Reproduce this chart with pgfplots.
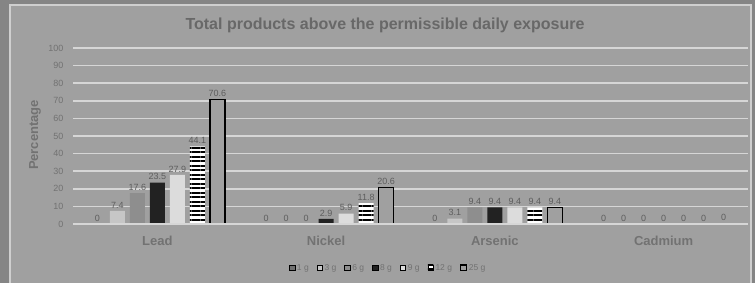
\documentclass[border=0pt]{standalone}
\usepackage{pgfplots}
\pgfplotsset{compat=1.18}
\usepackage{fontspec}
\setmainfont{Liberation Sans}
\usetikzlibrary{patterns.meta}
\definecolor{bg}{HTML}{A0A0A0}
\definecolor{outerbg}{HTML}{858585}
\definecolor{panelborder}{HTML}{CFCFCF}
\definecolor{gridc}{HTML}{D6D6D6}
\definecolor{titlec}{HTML}{686868}
\definecolor{tickc}{HTML}{727272}
\definecolor{labc}{HTML}{5E5E5E}
\definecolor{cA}{HTML}{707070}
\definecolor{cB}{HTML}{C6C6C6}
\definecolor{cC}{HTML}{8E8E8E}
\definecolor{cD}{HTML}{222222}
\definecolor{cE}{HTML}{DCDCDC}
\begin{document}
\begin{tikzpicture}[x=1pt,y=1pt]
\useasboundingbox (0,0) rectangle (755,283);
\fill[outerbg] (0,0) rectangle (755,283);
\fill[bg,draw=panelborder,line width=1.5pt] (10,-5) rectangle (751,278);
\node[font=\fontsize{16}{16}\selectfont\bfseries, text=titlec] at (385,258) {Total products above the permissible daily exposure};
\begin{axis}[
  at={(157.375pt,59pt)}, anchor=origin, scale only axis,
  width=675pt, height=176pt,
  /pgf/number format/assume math mode=true,
  ymin=0, ymax=100, ytick={0,10,...,100},
  xmin=-0.5, xmax=3.5, xtick={0,1,2,3},
  xticklabels={Lead,Nickel,Arsenic,Cadmium},
  axis line style={draw=none}, major tick length=0pt,
  ymajorgrids, grid style={draw=gridc, line width=1.5pt},
  ybar=5pt, bar width=15pt,
  yticklabel style={font=\fontsize{9}{9}\selectfont, text=tickc, xshift=-6pt},
  xticklabel style={font=\fontsize{13}{13}\selectfont\bfseries, text=tickc, anchor=center, yshift=-17pt},
  ylabel={Percentage},
  ylabel style={font=\fontsize{13}{13}\selectfont\bfseries, text=tickc, at={(axis description cs:-0.0563,0.506)}, anchor=center},
  nodes near coords,
  every node near coord/.append style={font=\fontsize{9}{9}\selectfont, text=labc, inner sep=2.5pt},
  legend columns=7,
  legend style={draw=none, fill=none, font=\fontsize{8.5}{8.5}\selectfont, text=tickc,
    at={(axis description cs:0.467,-0.25)}, anchor=center,
    /tikz/every even column/.append style={column sep=6pt}},
  legend image code/.code={\draw[#1] (0pt,-2.5pt) rectangle (5.5pt,3pt);},
  clip=false,
]
\addplot[fill=cA, draw=none] coordinates {(0,0) (1,0) (2,0) (3,0)};
\addplot[fill=cB, draw=none] coordinates {(0,7.4) (1,0) (2,3.1) (3,0)};
\addplot[fill=cC, draw=none] coordinates {(0,17.6) (1,0) (2,9.4) (3,0)};
\addplot[fill=cD, draw=none] coordinates {(0,23.5) (1,2.9) (2,9.4) (3,0)};
\addplot[fill=cE, draw=none] coordinates {(0,27.9) (1,5.9) (2,9.4) (3,0)};
\addplot[fill=white, draw=none, postaction={pattern={Lines[angle=0,distance=4.5pt,line width=2pt]}, pattern color=black}] coordinates {(0,44.1) (1,11.8) (2,9.4) (3,0)};
\addplot[fill=bg, draw=black, line width=1.3pt] coordinates {(0,70.6) (1,20.6) (2,9.4) (3,0)};
\draw[gridc, line width=1.5pt] (rel axis cs:0,0) -- (rel axis cs:1,0);
\legend{1 g,3 g,6 g,8 g,9 g,12 g,25 g}
\end{axis}
\end{tikzpicture}
\end{document}
